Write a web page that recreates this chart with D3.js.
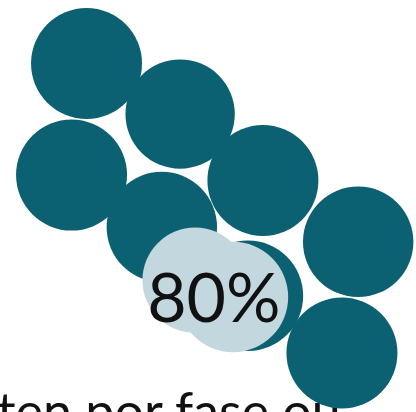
<!DOCTYPE html>
<html>
<head>
<meta charset="utf-8">
<script src="https://cdn.jsdelivr.net/npm/d3@7"></script>
<style>
  html, body { margin: 0; padding: 0; background: #fff; overflow: hidden; }
  svg { display: block; }
</style>
</head>
<body>
<svg id="chart" width="416" height="412"></svg>
<script>
// Data (positions in % of chart width / height, size as relative value)
const dotIds    = ["d1", "d2", "d3", "d4", "d5", "d6", "d7", "d8"];
const dotX      = [20.8, 43.3, 17.2, 63.2, 38.9, 86.1, 59.6, 82.2];
const dotY      = [15.4, 27.7, 42.5, 43.8, 55.1, 58.7, 71.8, 85.7];
const dotSize   = [1.0, 0.97, 1.0, 1.0, 0.99, 0.99, 0.99, 1.0];

const hiIds     = ["h1", "h2"];
const hiX       = [46.9, 56.0];
const hiY       = [68.0, 72.1];
const hiSize    = [0.9, 0.99];

const labelText = "80%";
const labelX    = [51.4];
const labelY    = [78.2];
const caption   = "ten por fase ou";

const W = 416, H = 412;
const svg = d3.select("#chart");
const x = d3.scaleLinear().domain([0, 100]).range([0, W]);
const y = d3.scaleLinear().domain([0, 100]).range([0, H]);
const r = d3.scaleSqrt().domain([0, 1]).range([0, 55.5]);

const dark = "#0b6171", light = "#c3d8de";

const dots = dotIds.map((id, i) => ({ id, x: dotX[i], y: dotY[i], s: dotSize[i] }));
const his  = hiIds.map((id, i) => ({ id, x: hiX[i], y: hiY[i], s: hiSize[i] }));

// caption sits beneath the dots (the last dot overlaps it)
svg.append("text")
  .attr("x", -3).attr("y", 430)
  .attr("font-family", "Lato, 'Noto Sans', sans-serif")
  .attr("font-size", 52)
  .attr("fill", "#111")
  .text(caption);

svg.append("g").selectAll("circle").data(dots).join("circle")
  .attr("cx", d => x(d.x)).attr("cy", d => y(d.y)).attr("r", d => r(d.s))
  .attr("fill", dark);

svg.append("g").selectAll("circle").data(his).join("circle")
  .attr("cx", d => x(d.x)).attr("cy", d => y(d.y)).attr("r", d => r(d.s))
  .attr("fill", light);

svg.append("text")
  .attr("x", x(labelX[0])).attr("y", y(labelY[0]))
  .attr("text-anchor", "middle")
  .attr("font-family", "Lato, 'Noto Sans', sans-serif")
  .attr("font-size", 68)
  .attr("fill", "#111")
  .text(labelText);
</script>
</body>
</html>
